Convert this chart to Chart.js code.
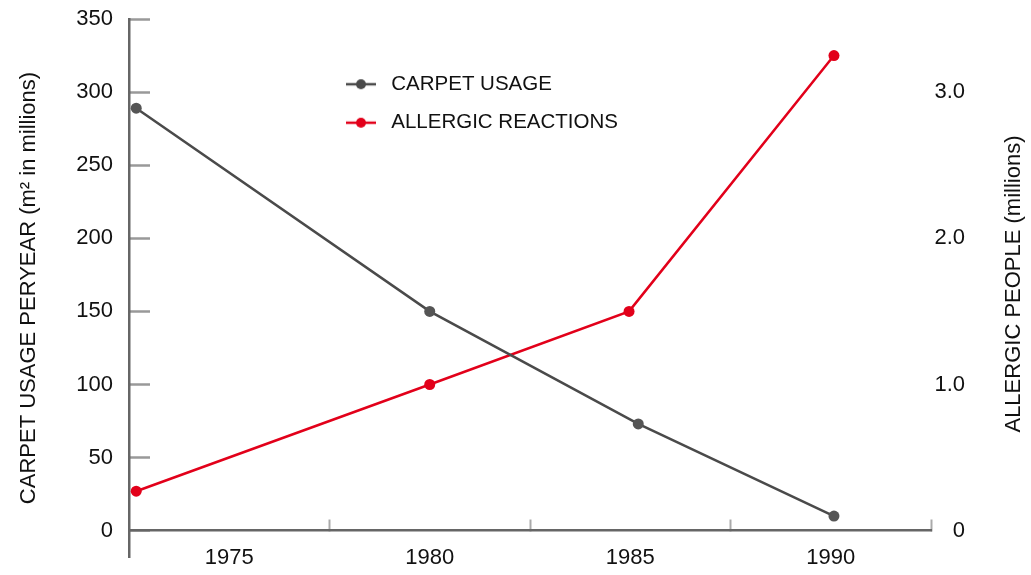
<!DOCTYPE html>
<html>
<head>
<meta charset="utf-8">
<script src="https://cdn.jsdelivr.net/npm/chart.js@4.4.1/dist/chart.umd.min.js"></script>
<style>
html, body { margin: 0; padding: 0; background: #fff; }
#wrap { width: 1031px; height: 575px; }
</style>
</head>
<body>
<div id="wrap"><canvas id="carpetChart"></canvas></div>
<script>
// values
const carpetYears = [1972.68, 1980, 1985.2, 1990.08];
const carpetUsage = [289, 150, 73, 10];
const allergyYears = [1972.68, 1980, 1984.97, 1990.08];
const allergicPeople = [0.27, 1.0, 1.5, 3.25];
const yearLabels = [1975, 1980, 1985, 1990];
const yearMarks = [1977.5, 1982.5, 1987.5, 1992.5];
const usageTicks = [0, 50, 100, 150, 200, 250, 300, 350];
const peopleTicks = [0, 1, 2, 3];
const peopleTitle = 'ALLERGIC PEOPLE (millions)';

const GREY = '#4a4a4a';
const RED = '#e2001a';
const FONT = '"Liberation Sans", Arial, sans-serif';

Chart.defaults.font.family = FONT;
Chart.defaults.color = '#111';

// line-with-dot marker for the legend
function legendMarker(color) {
    const c = document.createElement('canvas');
    c.width = 35;
    c.height = 12;
    const g = c.getContext('2d');
    g.strokeStyle = color;
    g.lineWidth = 2.5;
    g.beginPath();
    g.moveTo(0, 6);
    g.lineTo(30, 6);
    g.stroke();
    g.fillStyle = color;
    g.beginPath();
    g.arc(15, 6, 5, 0, Math.PI * 2);
    g.fill();
    return c;
}
const markers = [legendMarker(GREY), legendMarker(RED)];

// put the legend inside the plot, upper middle
const legendSpot = {
    id: 'legendSpot',
    afterLayout(chart) {
        const a = chart.chartArea;
        chart.legend.left = a.left + 199;
        chart.legend.top = a.top + 37;
    }
};

// right axis title reads bottom-to-top, chart.js would turn it the other way
const rightTitle = {
    id: 'rightTitle',
    afterDraw(chart) {
        const c = chart.ctx;
        const a = chart.chartArea;
        c.save();
        c.translate(chart.scales.y1.right + 49, (a.top + a.bottom) / 2 - 4);
        c.rotate(-Math.PI / 2);
        c.font = '22px ' + FONT;
        c.fillStyle = '#111';
        c.textAlign = 'center';
        c.textBaseline = 'middle';
        c.fillText(peopleTitle, 0, 0);
        c.restore();
    }
};

const noEdgePadding = s => { s.paddingTop = 0; s.paddingBottom = 0; };

const ctx = document.getElementById('carpetChart').getContext('2d');
new Chart(ctx, {
    type: 'line',
    data: {
        datasets: [
            {
                label: 'CARPET USAGE',
                data: carpetYears.map((x, i) => ({ x: x, y: carpetUsage[i] })),
                yAxisID: 'y',
                borderColor: GREY,
                backgroundColor: GREY,
                borderWidth: 2.5,
                pointRadius: 5.5,
                pointBorderWidth: 0,
                pointBackgroundColor: '#555',
                fill: false
            },
            {
                label: 'ALLERGIC REACTIONS',
                data: allergyYears.map((x, i) => ({ x: x, y: allergicPeople[i] })),
                yAxisID: 'y1',
                borderColor: RED,
                backgroundColor: RED,
                borderWidth: 2.5,
                pointRadius: 5.5,
                pointBorderWidth: 0,
                pointBackgroundColor: RED,
                fill: false
            }
        ]
    },
    options: {
        responsive: true,
        maintainAspectRatio: false,
        animation: false,
        events: [],
        layout: { padding: { left: 12, right: 66, top: 19, bottom: 18 } },
        plugins: {
            tooltip: { enabled: false },
            legend: {
                position: 'chartArea',
                align: 'start',
                labels: {
                    usePointStyle: true,
                    pointStyleWidth: 35,
                    boxHeight: 12,
                    padding: 18,
                    color: '#111',
                    font: { size: 20.5 },
                    generateLabels: chart => Chart.defaults.plugins.legend.labels.generateLabels(chart)
                        .map((l, i) => Object.assign(l, { pointStyle: markers[i] }))
                }
            }
        },
        scales: {
            x: {
                type: 'linear',
                position: { y: 0 },
                min: 1972.5,
                max: 1992.5,
                afterBuildTicks: s => {
                    s.ticks = yearLabels.concat(yearMarks).sort((a, b) => a - b).map(v => ({ value: v }));
                },
                ticks: {
                    autoSkip: false,
                    maxRotation: 0,
                    padding: 26,
                    color: '#111',
                    font: { size: 22 },
                    callback: v => yearLabels.includes(v) ? String(v) : ''
                },
                grid: {
                    drawOnChartArea: false,
                    tickLength: -12,
                    tickWidth: 2,
                    tickColor: c => yearMarks.includes(c.tick.value) ? '#aaa' : 'rgba(0,0,0,0)'
                },
                border: { color: '#666', width: 2.5 }
            },
            y: {
                position: 'left',
                min: -18,
                max: 350,
                afterBuildTicks: s => { s.ticks = usageTicks.map(v => ({ value: v })); },
                afterFit: s => { noEdgePadding(s); s.width = 117; },
                ticks: { padding: 37, color: '#111', font: { size: 22 } },
                grid: { drawOnChartArea: false, tickLength: -21, tickWidth: 2.5, tickColor: '#999' },
                border: { color: '#666', width: 2.5 },
                title: {
                    display: true,
                    text: 'CARPET USAGE PERYEAR (m² in millions)',
                    color: '#111',
                    font: { size: 22 },
                    padding: { top: 4, bottom: -3 }
                }
            },
            y1: {
                position: 'right',
                min: -0.18,
                max: 3.5,
                afterBuildTicks: s => { s.ticks = peopleTicks.map(v => ({ value: v })); },
                afterFit: s => { noEdgePadding(s); s.width = 34; },
                ticks: {
                    crossAlign: 'far',
                    padding: 0,
                    color: '#111',
                    font: { size: 22 },
                    callback: v => v === 0 ? '0' : v.toFixed(1)
                },
                grid: { display: false },
                border: { display: false }
            }
        }
    },
    plugins: [legendSpot, rightTitle]
});
</script>
</body>
</html>
